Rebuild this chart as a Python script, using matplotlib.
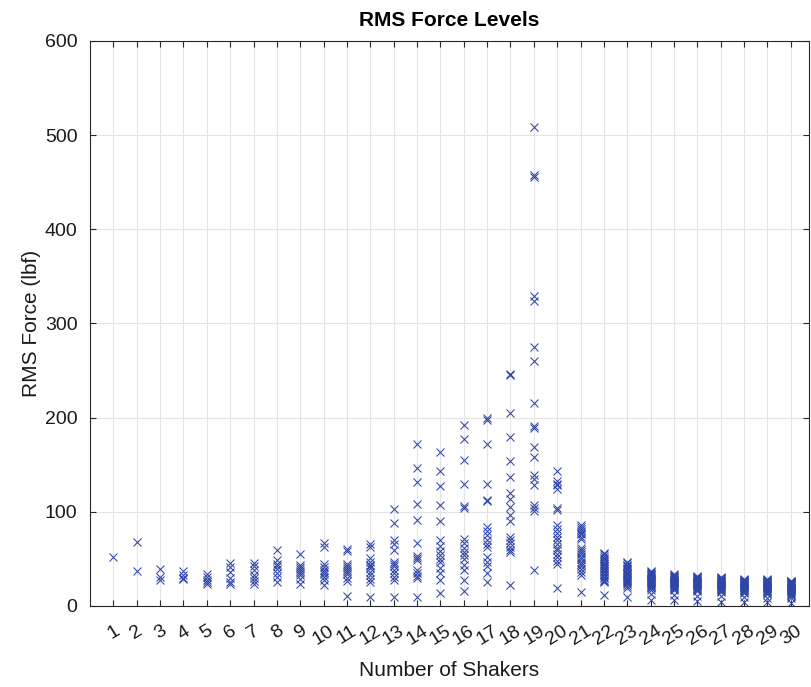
import matplotlib
matplotlib.use("Agg")
import matplotlib.pyplot as plt

# RMS force (lbf) of each shaker, grouped by number of shakers
n01 = [52]
n02 = [68, 37]
n03 = [39, 31, 28]
n04 = [37, 33, 30, 29]
n05 = [34, 31, 28, 26, 23]
n06 = [46, 41, 36, 30, 26, 23]
n07 = [46, 43, 38, 33, 30, 27, 23]
n08 = [60, 49, 45, 42, 39, 35, 31, 25]
n09 = [55, 44, 41, 39, 37, 35, 33, 29, 23]
n10 = [67, 63, 45, 41, 38, 36, 34, 31, 28, 22]
n11 = [61, 58, 45, 42, 40, 38, 36, 34, 30, 27, 11]
n12 = [66, 63, 51, 47, 44, 42, 40, 36, 33, 29, 26, 10]
n13 = [103, 88, 70, 66, 60, 47, 45, 43, 38, 35, 31, 28, 10]
n14 = [172, 147, 132, 108, 91, 67, 53, 51, 49, 38, 35, 32, 30, 10]
n15 = [164, 143, 127, 107, 90, 70, 64, 58, 54, 50, 47, 40, 35, 28, 14]
n16 = [192, 177, 155, 130, 106, 104, 71, 67, 62, 57, 54, 50, 44, 38, 28, 16]
n17 = [200, 198, 172, 130, 113, 111, 84, 80, 75, 70, 66, 63, 52, 47, 42, 35, 26]
n18 = [246, 245, 205, 180, 154, 137, 120, 114, 105, 97, 90, 73, 70, 67, 63,
       60, 57, 22]
n19 = [509, 458, 456, 329, 324, 275, 260, 216, 191, 189, 169, 158, 139, 135,
       129, 107, 104, 101, 38]
n20 = [143, 133, 130, 128, 124, 104, 102, 86, 82, 78, 73, 70, 66, 62, 59, 55,
       52, 48, 45, 19]
n21 = [86, 84, 82, 80, 78, 76, 73, 71, 62, 59, 57, 55, 52, 50, 47, 45, 42, 39,
       36, 33, 15]
n22 = [56, 55, 53, 51, 50, 48, 46, 45, 43, 42, 40, 39, 37, 36, 34, 33, 31, 30,
       28, 27, 25, 12]
n23 = [47, 46, 44, 43, 42, 40, 39, 38, 36, 35, 34, 33, 31, 30, 29, 28, 27, 25,
       24, 23, 21, 19, 10]
n24 = [37, 36, 35, 34, 33, 33, 32, 31, 30, 29, 28, 28, 27, 26, 25, 24, 23, 22,
       21, 20, 19, 17, 13, 6]
n25 = [34, 33, 32, 31, 31, 30, 29, 28, 28, 27, 26, 26, 25, 24, 24, 23, 22, 22,
       21, 20, 19, 18, 17, 12, 6]
n26 = [32, 31, 31, 30, 29, 29, 28, 27, 27, 26, 26, 25, 24, 24, 23, 23, 22, 21,
       21, 20, 19, 18, 17, 16, 11, 5]
n27 = [31, 30, 30, 29, 29, 28, 27, 27, 26, 26, 25, 25, 24, 23, 23, 22, 22, 21,
       20, 20, 19, 18, 17, 16, 15, 11, 4]
n28 = [29, 28, 28, 27, 27, 26, 26, 25, 25, 24, 24, 23, 23, 22, 22, 21, 21, 20,
       20, 19, 18, 18, 17, 16, 15, 14, 10, 4]
n29 = [29, 28, 28, 27, 27, 26, 26, 25, 25, 24, 24, 23, 23, 22, 22, 21, 21, 20,
       20, 19, 19, 18, 17, 16, 15, 14, 13, 9, 4]
n30 = [27, 27, 26, 26, 25, 25, 24, 24, 23, 23, 22, 22, 21, 21, 20, 20, 19, 19,
       18, 18, 17, 17, 16, 15, 14, 13, 12, 11, 8, 3]

groups = [n01, n02, n03, n04, n05, n06, n07, n08, n09, n10,
          n11, n12, n13, n14, n15, n16, n17, n18, n19, n20,
          n21, n22, n23, n24, n25, n26, n27, n28, n29, n30]
shaker_counts = list(range(1, 31))
y_ticks = [0, 100, 200, 300, 400, 500, 600]

plt.rcParams['font.family'] = ['Liberation Sans', 'DejaVu Sans']

fig = plt.figure(figsize=(8.11, 6.87), dpi=100)
ax = fig.add_axes([90 / 811, 1 - 606 / 687, 719 / 811, 565 / 687])

xs, ys = [], []
for n, vals in zip(shaker_counts, groups):
    xs.extend([n] * len(vals))
    ys.extend(vals)
ax.plot(xs, ys, linestyle='none', marker='x', markersize=6,
        markeredgewidth=0.75, color='#2f45a8')

ax.set_xlim(0, 30.78)
ax.set_ylim(0, 600)
ax.set_xticks(shaker_counts)
ax.set_xticklabels([str(n) for n in shaker_counts], rotation=32,
                   ha='center', fontsize=14, color='#1a1a1a')
ax.set_yticks(y_ticks)
ax.set_yticklabels([str(v) for v in y_ticks], fontsize=14, color='#1a1a1a')

ax.grid(True, color='#e4e4e4', linewidth=0.8)
ax.set_axisbelow(True)
ax.tick_params(axis='both', direction='in', length=4, width=0.8,
               top=True, right=True, colors='#262626')
ax.tick_params(axis='x', pad=12, labelcolor='#1a1a1a')
ax.tick_params(axis='y', pad=9, labelcolor='#1a1a1a')
for s in ax.spines.values():
    s.set_color('#262626')
    s.set_linewidth(0.8)

ax.set_xlabel('Number of Shakers', fontsize=15, color='#1a1a1a', labelpad=9)
ax.set_ylabel('RMS Force (lbf)', fontsize=15, color='#1a1a1a', labelpad=3)
ax.set_title('RMS Force Levels', fontsize=15, fontweight='bold', pad=11)

fig.savefig('out.png', dpi=100)
